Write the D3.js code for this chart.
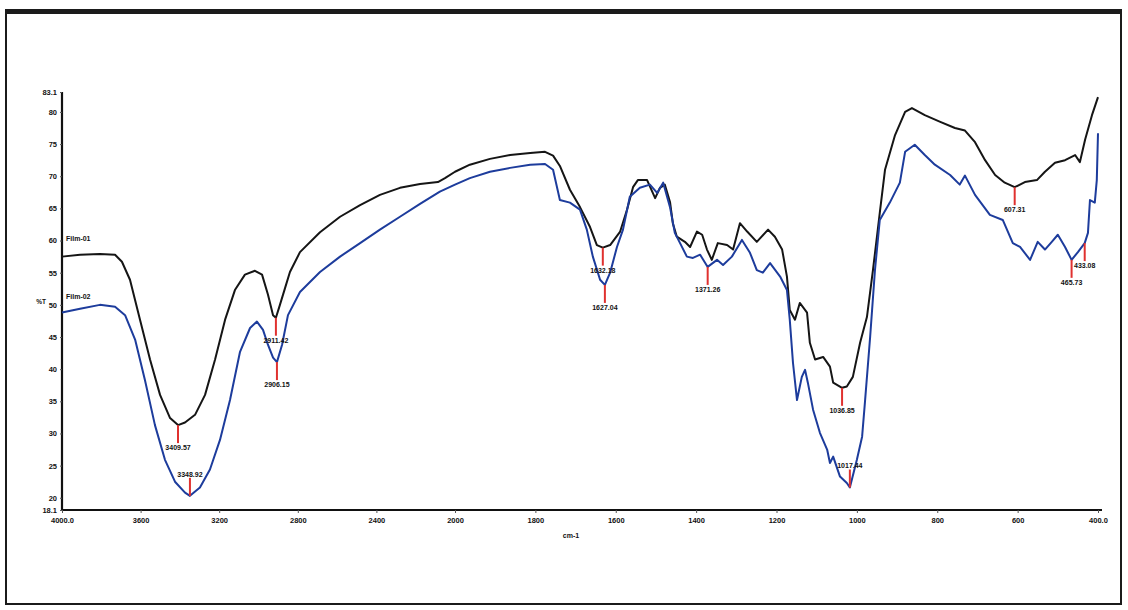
<!DOCTYPE html>
<html>
<head>
<meta charset="utf-8">
<script src="https://cdn.jsdelivr.net/npm/d3@7"></script>
<style>
  html, body { margin: 0; padding: 0; background: #fff; }
  svg { display: block; }
  text { font-family: "Liberation Sans", Arial, sans-serif; font-weight: bold; fill: #111; }
</style>
</head>
<body>
<svg id="chart" width="1128" height="610"></svg>
<script>
// FTIR transmittance spectra of two films (wavenumber in cm-1, %T)
const blackWave = [4000,3908,3807,3730,3695,3654,3603,3552,3501,3450,3409.57,3374,3323,3272,3221,3170,3120,3069,3018,2982,2952,2926,2911.42,2891,2865,2840,2789,2687,2585,2483,2382,2280,2178,2087,2051,2000,1963,1913,1863,1813,1776,1756,1739,1714,1689,1664,1647,1632.18,1614,1589,1572,1557,1545,1522,1502,1490,1478,1465,1458,1448,1428,1415,1398,1385,1373,1361,1346,1323,1308,1291,1273,1249,1221,1204,1186,1174,1167,1154,1142,1124,1117,1104,1084,1067,1059,1036.85,1025,1010,992,975,960,943,930,905,880,863,831,794,756,731,706,681,656,632,607.31,582,552,532,507,482,457,445,432,415,400];
const blackT = [57.5,57.8,57.9,57.8,56.7,53.9,47.7,41.5,36.0,32.4,31.3,31.7,32.9,36.0,41.5,47.7,52.3,54.7,55.3,54.7,51.6,48.4,48.0,50.0,52.6,55.1,58.2,61.3,63.7,65.5,67.1,68.2,68.8,69.1,69.7,70.7,71.8,72.7,73.3,73.6,73.8,73.2,71.6,67.9,65.2,62.1,59.3,58.9,59.3,61.4,64.8,68.3,69.4,69.4,66.6,68.2,68.7,66.0,62.7,60.6,59.8,59.0,61.4,60.9,58.6,57.0,59.6,59.3,58.6,62.7,61.4,59.8,61.7,60.6,58.6,54.4,49.2,47.7,50.3,48.8,44.1,41.5,41.9,40.4,37.9,37.1,37.3,38.8,44.1,48.1,55.4,64.3,71.0,76.4,80.0,80.6,79.5,78.5,77.5,77.1,75.3,72.5,70.2,69.0,68.3,69.1,69.4,70.7,72.1,72.5,73.3,72.2,75.7,79.5,82.3];

const blueWave = [4000,3908,3807,3730,3679,3628,3578,3527,3476,3425,3374,3348.92,3298,3247,3196,3145,3094,3043,3008,2977,2952,2926,2906.15,2880,2850,2789,2687,2585,2483,2382,2280,2178,2077,2000,1963,1913,1863,1813,1776,1756,1739,1714,1689,1672,1657,1639,1627.04,1614,1597,1582,1565,1540,1515,1497,1482,1465,1453,1440,1423,1408,1390,1371.26,1348,1333,1311,1286,1266,1249,1234,1216,1191,1174,1167,1159,1149,1137,1129,1122,1109,1092,1074,1067,1059,1042,1025,1017.44,1000,987,980,967,955,943,918,893,880,856,831,806,768,744,731,706,669,637,612,594,569,550,532,515,500,482,465.73,450,433.08,425,420,408,403,400];
const blueT = [48.8,49.4,50.0,49.7,48.4,44.6,38.3,31.3,25.9,22.5,20.8,20.3,21.6,24.4,29.0,35.2,42.7,46.4,47.4,46.1,43.8,41.8,41.1,43.8,48.4,52.0,55.1,57.5,59.6,61.7,63.7,65.7,67.6,68.7,69.7,70.7,71.3,71.8,71.9,71.0,66.3,65.9,64.8,61.7,57.5,53.9,53.1,55.0,59.0,61.7,66.8,68.2,68.7,67.4,69.0,65.2,61.2,59.6,57.5,57.3,57.8,55.9,57.0,56.2,57.5,60.1,58.1,55.4,55.0,56.5,54.4,52.3,47.7,41.0,35.2,38.8,39.9,37.9,33.7,30.1,27.5,25.4,26.4,23.3,22.3,21.6,25.9,29.5,34.8,45.0,55.4,63.2,65.9,69.0,73.8,74.9,73.3,71.8,70.2,68.7,70.1,67.1,64.0,63.2,59.6,59.0,57.0,59.8,58.6,59.8,60.9,59.0,57.0,58.2,59.6,61.2,66.3,65.9,69.4,76.7];

// Labelled absorption bands
const blackPeaks = [3409.57, 2911.42, 1632.18, 1036.85, 607.31];
const bluePeaks = [3348.92, 2906.15, 1627.04, 1371.26, 1017.44, 465.73, 433.08];

const seriesNames = ["Film-01", "Film-02"];

// Axis ticks
const xTicks = [4000, 3600, 3200, 2800, 2400, 2000, 1800, 1600, 1400, 1200, 1000, 800, 600, 400];
const xTickLabels = ["4000.0", "3600", "3200", "2800", "2400", "2000", "1800", "1600", "1400", "1200", "1000", "800", "600", "400.0"];
const yTicks = [18.1, 20, 25, 30, 35, 40, 45, 50, 55, 60, 65, 70, 75, 80, 83.1];
const yTickLabels = ["18.1", "20", "25", "30", "35", "40", "45", "50", "55", "60", "65", "70", "75", "80", "83.1"];
const xTitle = "cm-1";
const yTitle = "%T";

const svg = d3.select("#chart");

// Outer frame
svg.append("rect").attr("x", 6).attr("y", 10).attr("width", 1115).attr("height", 594)
  .attr("fill", "#fff").attr("stroke", "#1b1b1b").attr("stroke-width", 2);
svg.append("line").attr("x1", 6).attr("x2", 1121).attr("y1", 11.5).attr("y2", 11.5)
  .attr("stroke", "#1b1b1b").attr("stroke-width", 5);

// Wavenumber scale: expanded below 2000 cm-1
const x = d3.scaleLinear().domain([4000, 2000, 400]).range([62, 455, 1098]);
const y = d3.scaleLinear().domain([18.1, 83.1]).range([510, 92]);

const xAxis = d3.axisBottom(x).tickValues(xTicks)
  .tickFormat((d, i) => xTickLabels[i]).tickSize(3).tickSizeOuter(0);
const gx = svg.append("g").attr("transform", "translate(0,510)").call(xAxis);
gx.select(".domain").attr("stroke", "#111").attr("stroke-width", 2.2).attr("d", "M62,0H1102");
gx.selectAll(".tick line").attr("stroke", "#555");
gx.selectAll(".tick text").attr("font-size", 7.5).attr("dy", "0.9em")
  .attr("font-family", "Liberation Sans, Arial").attr("font-weight", "bold").attr("fill", "#111");

const yAxis = d3.axisLeft(y).tickValues(yTicks)
  .tickFormat((d, i) => yTickLabels[i]).tickSize(2).tickSizeOuter(0);
const gy = svg.append("g").attr("transform", "translate(62,0)").call(yAxis);
gy.select(".domain").attr("stroke", "#111").attr("stroke-width", 2.2).attr("d", "M0,92V510");
gy.selectAll(".tick line").attr("stroke", "#555");
gy.selectAll(".tick text").attr("font-size", 7.5).attr("x", -5)
  .attr("font-family", "Liberation Sans, Arial").attr("font-weight", "bold").attr("fill", "#111");

svg.append("text").attr("x", 41).attr("y", 304).attr("text-anchor", "middle")
  .attr("font-size", 6.5).text(yTitle);
svg.append("text").attr("x", 571).attr("y", 538).attr("text-anchor", "middle")
  .attr("font-size", 7).text(xTitle);

// Spectra
const line = d3.line().x(d => x(d[0])).y(d => y(d[1]));
const blackData = blackWave.map((w, i) => [w, blackT[i]]);
const blueData = blueWave.map((w, i) => [w, blueT[i]]);

svg.append("path").datum(blackData).attr("d", line)
  .attr("fill", "none").attr("stroke", "#151515").attr("stroke-width", 2).attr("stroke-linejoin", "round");
svg.append("path").datum(blueData).attr("d", line)
  .attr("fill", "none").attr("stroke", "#1d3c9c").attr("stroke-width", 2).attr("stroke-linejoin", "round");

// Series names written above each trace near the start
svg.append("text").attr("x", 66).attr("y", 241).attr("font-size", 7).text(seriesNames[0]);
svg.append("text").attr("x", 66).attr("y", 299).attr("font-size", 7).text(seriesNames[1]);

// Peak markers: red drop line from the trace to its wavenumber label
function valueAt(data, w) {
  for (let i = 0; i < data.length - 1; i++) {
    const a = data[i], b = data[i + 1];
    if (w <= a[0] && w >= b[0]) {
      const t = (a[0] - w) / (a[0] - b[0]);
      return a[1] + t * (b[1] - a[1]);
    }
  }
  return data[data.length - 1][1];
}
const aboveTrace = new Set([3348.92, 1017.44]);
function drawPeaks(data, peaks) {
  peaks.forEach(w => {
    const px = x(w), py = y(valueAt(data, w));
    const above = aboveTrace.has(w);
    const end = above ? py - 18 : py + 18;
    svg.append("line").attr("x1", px).attr("x2", px).attr("y1", py).attr("y2", end)
      .attr("stroke", "#e0312f").attr("stroke-width", 2);
    svg.append("text").attr("x", px).attr("y", above ? end - 1 : end + 7)
      .attr("text-anchor", "middle").attr("font-size", 7).text(w.toFixed(2));
  });
}
drawPeaks(blackData, blackPeaks);
drawPeaks(blueData, bluePeaks);
</script>
</body>
</html>
